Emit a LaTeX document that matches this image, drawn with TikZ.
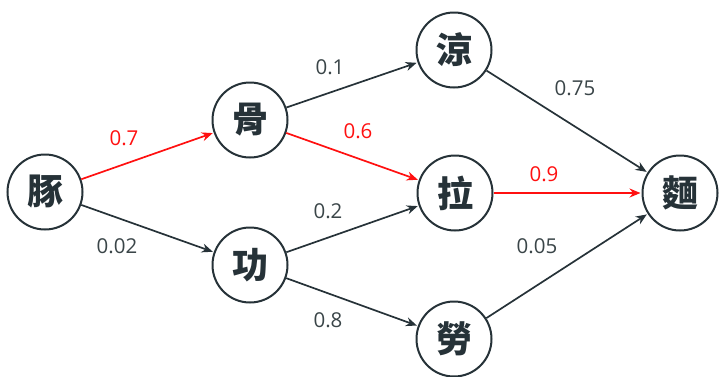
\documentclass[tikz,border=0pt]{standalone}
\usepackage{fontspec}
\setmainfont{Open Sans}
\newfontfamily\cjk{Noto Sans CJK TC Black}
\usetikzlibrary{arrows.meta}
\definecolor{ink}{HTML}{263238}
\definecolor{lblgray}{HTML}{3a4548}
\definecolor{hot}{HTML}{FF1010}
\tikzset{
  x=1pt,y=-1pt,
  word/.style={circle,draw=ink,line width=2pt,minimum size=75pt,inner sep=0pt,font=\cjk\fontsize{36}{36}\selectfont,text=ink},
  link/.style={draw=ink,line width=1.7pt,-{Stealth[length=11pt,width=9pt]},shorten >=1pt},
  hotlink/.style={link,draw=hot},
  lbl/.style={font=\fontsize{20.5}{22}\selectfont,text=lblgray},
  hotlbl/.style={lbl,text=hot}
}
\begin{document}
\begin{tikzpicture}
\useasboundingbox (0,0) rectangle (719,376);
\node[word] (tun) at (45,192) {豚};
\node[word] (gu) at (250,120) {骨};
\node[word] (gong) at (250,265) {功};
\node[word] (liang) at (454,50) {涼};
\node[word] (la) at (455,193) {拉};
\node[word] (lao) at (454,339) {勞};
\node[word] (mian) at (680,193) {麵};
\draw[hotlink] (tun) -- (gu);
\draw[link] (tun) -- (gong);
\draw[link] (gu) -- (liang);
\draw[hotlink] (gu) -- (la);
\draw[link] (gong) -- (la);
\draw[link] (gong) -- (lao);
\draw[link] (liang) -- (mian);
\draw[hotlink] (la) -- (mian);
\draw[link] (lao) -- (mian);
\node[hotlbl] (l1) at (124,138) {0.7};
\node[lbl] (l2) at (117,246) {0.02};
\node[lbl] (l3) at (330,67) {0.1};
\node[hotlbl] (l4) at (358,131) {0.6};
\node[lbl] (l5) at (328,211) {0.2};
\node[lbl] (l6) at (328,320) {0.8};
\node[lbl] (l7) at (575,88) {0.75};
\node[hotlbl] (l8) at (544,174) {0.9};
\node[lbl] (l9) at (537,246) {0.05};
\end{tikzpicture}
\end{document}
